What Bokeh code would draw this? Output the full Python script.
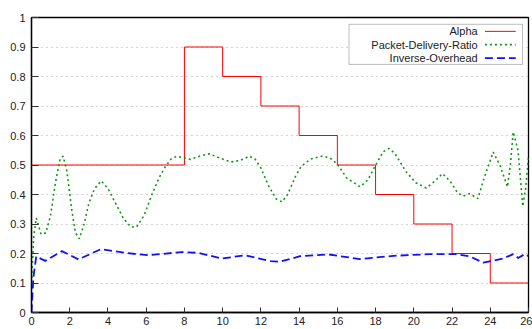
from bokeh.plotting import figure
from bokeh.models import Range1d, FixedTicker, BoxAnnotation, Label
from bokeh.embed import file_html
from bokeh.resources import INLINE

# ---- data ----
alpha_x = [0, 8, 10, 12, 14, 16, 18, 20, 22, 24, 26]
alpha_y = [0.5, 0.9, 0.8, 0.7, 0.6, 0.5, 0.4, 0.3, 0.2, 0.1, 0.1]

pdr_x = [0, 0.12, 0.25, 0.5, 0.75, 1.0, 1.25, 1.5, 1.65, 1.85, 2.1, 2.3, 2.5, 2.75,
         3.0, 3.3, 3.65, 4.0, 4.4, 4.8, 5.2, 5.5, 5.9, 6.3, 6.7, 7.0, 7.3, 7.6, 7.9,
         8.3, 8.8, 9.3, 9.8, 10.4, 10.9, 11.4, 11.7, 12.0, 12.4, 12.8, 13.1, 13.4,
         13.8, 14.1, 14.6, 15.2, 15.6, 16.0, 16.5, 17.2, 17.6, 18.05, 18.4, 18.7,
         19.0, 19.6, 20.1, 20.65, 21.1, 21.5, 21.9, 22.3, 22.6, 22.9, 23.35, 23.7,
         24.15, 24.5, 24.9, 25.05, 25.2, 25.45, 25.7, 25.85, 26.0]
pdr_y = [0.10, 0.26, 0.32, 0.265, 0.27, 0.33, 0.44, 0.52, 0.53, 0.48, 0.35, 0.27, 0.25, 0.30,
         0.37, 0.42, 0.446, 0.42, 0.37, 0.32, 0.29, 0.29, 0.33, 0.40, 0.46, 0.494, 0.52, 0.53, 0.525,
         0.519, 0.53, 0.538, 0.525, 0.51, 0.515, 0.53, 0.52, 0.49, 0.43, 0.385, 0.375, 0.40,
         0.46, 0.495, 0.52, 0.53, 0.525, 0.503, 0.455, 0.426, 0.45, 0.505, 0.545, 0.556,
         0.54, 0.477, 0.44, 0.422, 0.445, 0.471, 0.445, 0.405, 0.395, 0.403, 0.386, 0.46,
         0.544, 0.50, 0.426, 0.50, 0.612, 0.55, 0.36, 0.42, 0.527]

io_x = [0, 0.1, 0.25, 0.72, 1.59, 2.46, 3.64, 4.9, 6.12, 7.86, 8.73, 9.96, 11.17, 12.5,
        13.0, 14.05, 15.53, 17.18, 18.93, 20.85, 22.24, 22.94, 23.63, 24.68, 25.2,
        25.46, 25.81, 26.0]
io_y = [0.0, 0.12, 0.19, 0.175, 0.208, 0.18, 0.215, 0.202, 0.194, 0.205, 0.202, 0.183,
        0.194, 0.174, 0.172, 0.191, 0.197, 0.181, 0.192, 0.198, 0.198, 0.19, 0.169,
        0.183, 0.198, 0.185, 0.198, 0.191]

x_ticks = [0, 2, 4, 6, 8, 10, 12, 14, 16, 18, 20, 22, 24, 26]
x_tick_labels = ["0", "2", "4", "6", "8", "10", "12", "14", "16", "18", "20", "22", "24", "26"]
y_ticks = [0, 0.1, 0.2, 0.3, 0.4, 0.5, 0.6, 0.7, 0.8, 0.9, 1]
y_tick_labels = ["0", "0.1", "0.2", "0.3", "0.4", "0.5", "0.6", "0.7", "0.8", "0.9", "1"]

series_names = ["Alpha", "Packet-Delivery-Ratio", "Inverse-Overhead"]
series_colors = ["#ff0000", "#109910", "#1010ff"]

FONT = "Liberation Sans"

p = figure(width=532, height=329, x_range=Range1d(0, 26), y_range=Range1d(0, 1),
           output_backend="svg", toolbar_location=None,
           min_border_left=31, min_border_right=4, min_border_top=17, min_border_bottom=17)
p.background_fill_color = "white"
p.border_fill_color = "white"
p.outline_line_color = "black"
p.outline_line_width = 1.3

p.xgrid.visible = False
p.ygrid.grid_line_color = "#a8a8a8"
p.ygrid.grid_line_dash = "1 4"
p.ygrid.grid_line_width = 1

p.xaxis.ticker = FixedTicker(ticks=x_ticks)
p.yaxis.ticker = FixedTicker(ticks=y_ticks)
p.xaxis.major_label_overrides = {t: l for t, l in zip(x_ticks, x_tick_labels)}
p.yaxis.major_label_overrides = {t: l for t, l in zip(y_ticks, y_tick_labels)}
for ax in (p.xaxis, p.yaxis):
    ax.axis_line_color = "black"
    ax.axis_line_width = 1.3
    ax.major_tick_line_color = "#333333"
    ax.major_tick_out = 0
    ax.minor_tick_line_color = None
    ax.major_label_text_font = FONT
    ax.major_label_text_font_size = "11px"
    ax.major_label_text_color = "#222222"
p.xaxis.major_tick_in = 5
p.yaxis.major_tick_in = 7
p.xaxis.major_label_standoff = 4
p.yaxis.major_label_standoff = 6

# series
p.step(alpha_x, alpha_y, mode="after", line_color=series_colors[0], line_width=1)
p.line(pdr_x, pdr_y, line_color=series_colors[1], line_width=1.6, line_dash="2 3")
p.line(io_x, io_y, line_color=series_colors[2], line_width=1.8, line_dash="8 4")

# legend (gnuplot style: label right-aligned, sample to the right)
box = BoxAnnotation(left=16.61, right=25.69, top=0.977, bottom=0.841,
                    fill_color="white", fill_alpha=1, line_color="#222222", line_width=1)
p.add_layout(box)
rows = [0.953, 0.908, 0.862]
dashes = ["solid", "2 3", "8 4"]
widths = [1, 1.6, 1.8]
for name, col, yy, dash, w in zip(series_names, series_colors, rows, dashes, widths):
    p.add_layout(Label(x=23.34, y=yy, text=name, text_align="right", text_baseline="middle",
                       text_font=FONT, text_font_size="11px", text_color="#222222"))
    p.line([23.72, 25.33], [yy, yy], line_color=col, line_width=w, line_dash=dash, level="overlay")

open("out.html", "w").write(file_html(p, INLINE))
